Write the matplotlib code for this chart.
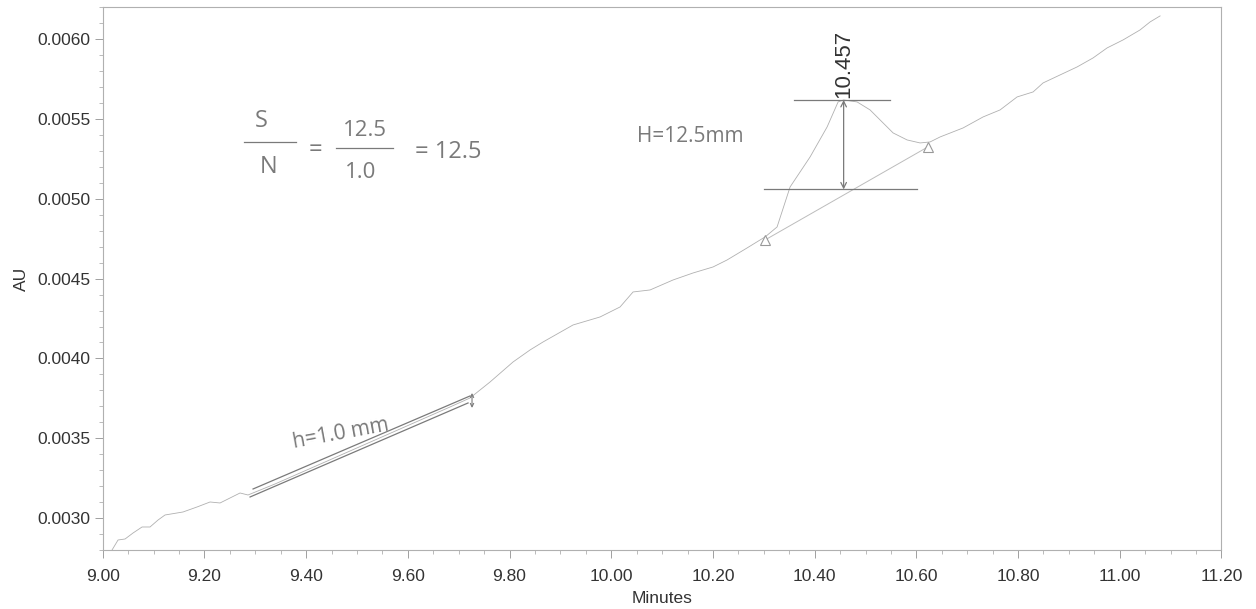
import numpy as np
import matplotlib
matplotlib.use("Agg")
import matplotlib.pyplot as plt
from matplotlib.ticker import MultipleLocator, FormatStrFormatter

# chromatogram trace (minutes, AU)
t = [9.0183, 9.0301, 9.0439, 9.0596, 9.0773, 9.0930, 9.1088, 9.1225, 9.1579, 9.1854,
     9.2110, 9.2307, 9.2503, 9.2700, 9.2857, 9.3388, 9.3880, 9.4372, 9.4863, 9.5355,
     9.5847, 9.6338, 9.6830, 9.7223, 9.7617, 9.8069, 9.8403, 9.8659, 9.9249, 9.9780,
     10.0173, 10.0429, 10.0763, 10.1216, 10.1609, 10.2002, 10.2278, 10.2671, 10.2927, 10.3025,
     10.3261, 10.3517, 10.3910, 10.4245, 10.4461, 10.4570, 10.4835, 10.5090, 10.5346, 10.5543,
     10.5818, 10.6074, 10.6270, 10.6467, 10.6919, 10.7312, 10.7646, 10.7981, 10.8296, 10.8492,
     10.8826, 10.9161, 10.9475, 10.9751, 11.0065, 11.0399, 11.0596, 11.0793]
au = [0.002800, 0.0028626, 0.0028689, 0.0029065, 0.0029441, 0.0029441, 0.0029879, 0.0030193, 0.0030381, 0.0030694,
      0.0031007, 0.0030945, 0.0031258, 0.0031571, 0.0031446, 0.0032136, 0.0032825, 0.0033514, 0.0034203, 0.0034892,
      0.0035582, 0.0036271, 0.0036960, 0.0037524, 0.0038527, 0.0039780, 0.0040532, 0.0041033, 0.0042098, 0.0042600,
      0.0043226, 0.0044166, 0.0044291, 0.0044918, 0.0045356, 0.0045732, 0.0046171, 0.0046923, 0.0047424, 0.0047612,
      0.0048238, 0.0050745, 0.0052624, 0.0054504, 0.0056071, 0.0056196, 0.0056071, 0.0055570, 0.0054755, 0.0054129,
      0.0053690, 0.0053502, 0.0053565, 0.0053878, 0.0054442, 0.0055131, 0.0055570, 0.0056384, 0.0056698, 0.0057262,
      0.0057763, 0.0058264, 0.0058828, 0.0059455, 0.0059956, 0.0060582, 0.0061083, 0.0061460]

# integration marks: peak start / end and apex
peak_start = (10.3025, 0.0047424)
peak_end = (10.6236, 0.0053271)
peak_rt = 10.457
peak_top = 0.0056196
base_at_peak = 0.0050589

# noise band drawn by hand
noise_upper = ([9.2956, 9.7223], [0.0031822, 0.0037650])
noise_lower = ([9.2897, 9.7184], [0.0031321, 0.0037211])

plt.rcParams['font.family'] = ['Liberation Sans', 'DejaVu Sans']
fig = plt.figure(figsize=(12.56, 6.09), dpi=100)
ax = fig.add_axes([0.0818, 0.0969, 0.8907, 0.8911])

trace_c = '#b0b0b0'
pencil = '#7a7a7a'

ax.plot(t, au, color=trace_c, lw=0.6)

# baseline + start/end markers
ax.plot([peak_start[0], peak_end[0]], [peak_start[1], peak_end[1]], color='#bcbcbc', lw=0.7)
ax.plot([peak_start[0], peak_end[0]], [peak_start[1], peak_end[1]], ls='none', marker='^',
        ms=7, mfc='white', mec='#999999', mew=0.8)

# retention time label
ax.text(peak_rt, peak_top + 0.00001, '%.3f' % peak_rt, rotation=90, ha='center', va='bottom',
        fontsize=16, color='#333333')

# pencil marks: peak height
ax.plot([10.3596, 10.5484], [peak_top, peak_top], color=pencil, lw=0.9)
ax.plot([10.2999, 10.6007], [base_at_peak, base_at_peak], color=pencil, lw=0.9)
ax.annotate('', xy=(peak_rt, peak_top), xytext=(peak_rt, base_at_peak),
            arrowprops=dict(arrowstyle='<->', color=pencil, lw=0.9, shrinkA=0, shrinkB=0))
ax.text(10.1549, 0.0053878, 'H=12.5mm', ha='center', va='center', fontsize=15,
        color=pencil, family='Open Sans')

# pencil marks: noise
ax.plot(*noise_upper, color=pencil, lw=0.9)
ax.plot(*noise_lower, color=pencil, lw=0.9)
ax.annotate('', xy=(9.7262, 0.0037838), xytext=(9.7262, 0.0036898),
            arrowprops=dict(arrowstyle='<->', color=pencil, lw=0.8, shrinkA=0, shrinkB=0,
                            mutation_scale=6))
ax.text(9.4673, 0.0035311, 'h=1.0 mm', rotation=10.5, ha='center', va='center', fontsize=15,
        color=pencil, family='Open Sans')

# pencil marks: S/N calculation
hw = dict(ha='center', va='center', color=pencil, family='Open Sans')
ax.text(9.3113, 0.0054881, 'S', fontsize=17, **hw)
ax.plot([9.2779, 9.3802], [0.0053565, 0.0053565], color=pencil, lw=0.9)
ax.text(9.3270, 0.0051998, 'N', fontsize=17, **hw)
ax.text(9.4174, 0.0053063, '=', fontsize=17, **hw)
ax.text(9.5158, 0.0054254, '12.5', fontsize=16, **hw)
ax.plot([9.4588, 9.5709], [0.0053189, 0.0053189], color=pencil, lw=0.9)
ax.text(9.5079, 0.0051622, '1.0', fontsize=16, **hw)
ax.text(9.6790, 0.0052938, '= 12.5', fontsize=17, **hw)

ax.set_xlim(9.0, 11.2)
ax.set_ylim(0.0028, 0.0062)
ax.xaxis.set_major_locator(MultipleLocator(0.2))
ax.xaxis.set_minor_locator(MultipleLocator(0.05))
ax.xaxis.set_major_formatter(FormatStrFormatter('%.2f'))
ax.yaxis.set_major_locator(MultipleLocator(0.0005))
ax.yaxis.set_minor_locator(MultipleLocator(0.0001))
ax.yaxis.set_major_formatter(FormatStrFormatter('%.4f'))

for s in ax.spines.values():
    s.set_color('#b0b0b0')
    s.set_linewidth(0.8)
ax.tick_params(which='major', length=6, width=0.7, color='#a0a0a0', labelsize=12.5,
               labelcolor='#333333')
ax.tick_params(axis='x', which='major', pad=8)
ax.tick_params(axis='y', which='major', pad=3)
ax.tick_params(which='minor', length=3, width=0.6, color='#b0b0b0')

ax.set_xlabel('Minutes', fontsize=12.5, color='#333333', labelpad=5)
ax.set_ylabel('AU', fontsize=12.5, color='#333333', labelpad=6)

fig.savefig('out.png', dpi=100, facecolor='white')
